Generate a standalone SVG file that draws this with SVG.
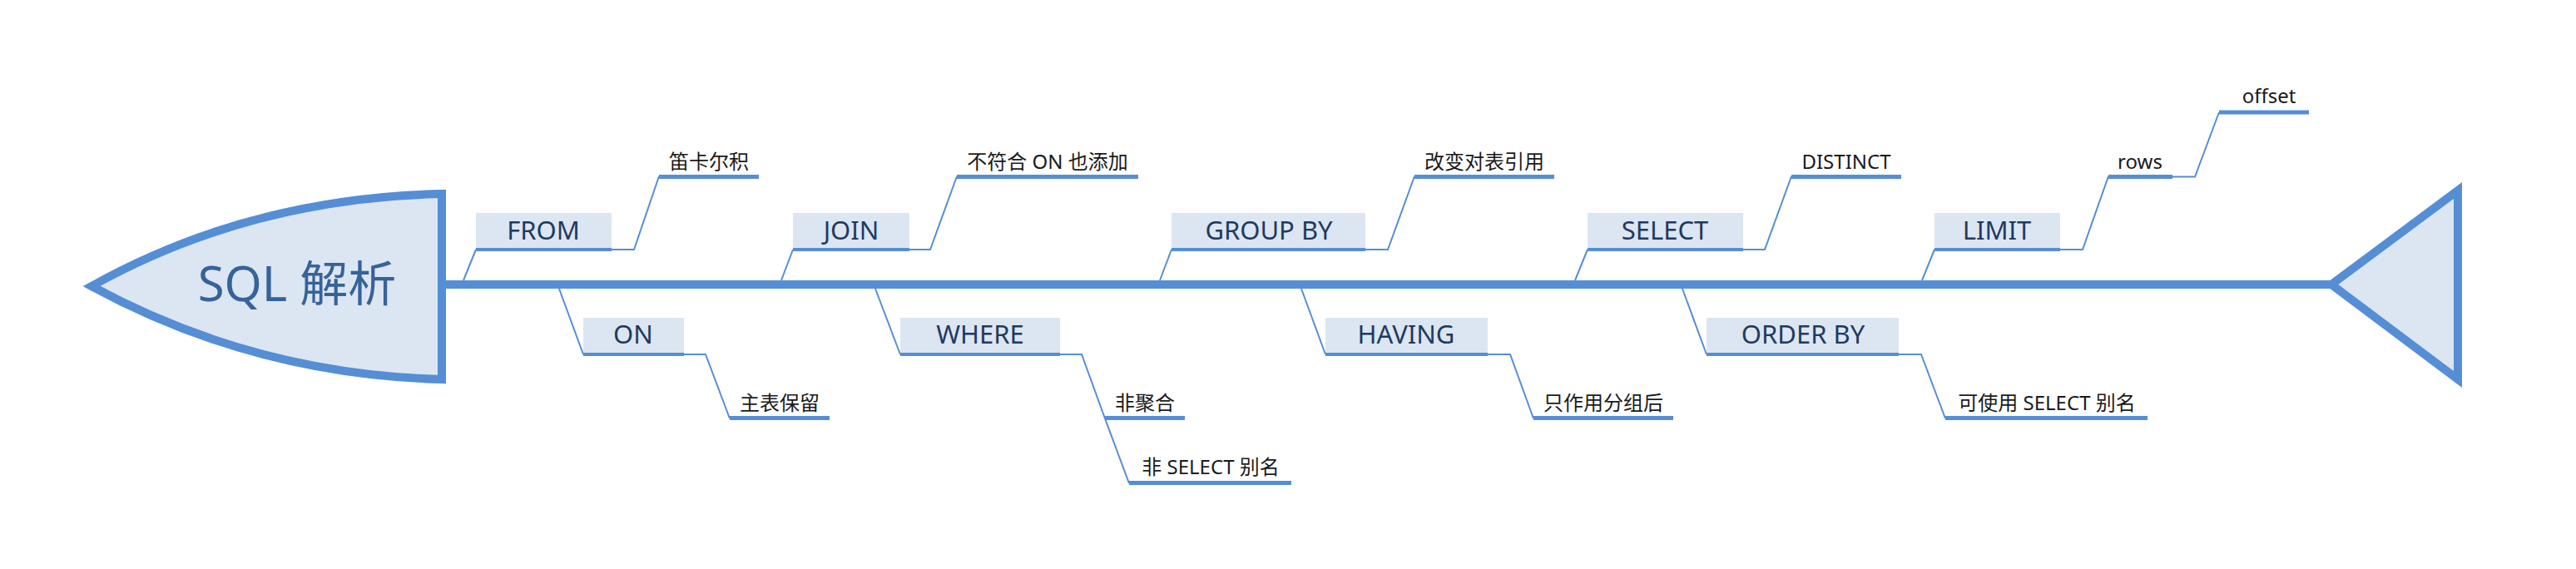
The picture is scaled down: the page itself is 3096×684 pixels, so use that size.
<svg xmlns="http://www.w3.org/2000/svg" width="3096" height="684" viewBox="0 0 3096 684">
<style>
.bg{fill:#ffffff}
.shape{fill:#dce6f2;stroke:#558ed5;stroke-width:10;stroke-linejoin:miter;stroke-miterlimit:10}
.spine{stroke:#558ed5;stroke-width:10;fill:none}
.thin{stroke:#558ed5;stroke-width:2;fill:none}
.uline{stroke:#558ed5;stroke-width:4;fill:none}
.cline{stroke:#558ed5;stroke-width:5;fill:none}
.box{fill:#dce6f2}
.head{font-family:"Noto Sans","Noto Sans CJK SC",sans-serif;font-size:58px;fill:#35639a;text-anchor:middle}
.lbl{font-family:"Noto Sans","Noto Sans CJK SC",sans-serif;font-size:31px;fill:#1f3a60;text-anchor:middle}
.sub{font-family:"Noto Sans","Noto Sans CJK SC",sans-serif;font-size:24px;fill:#1a1a1a;text-anchor:middle}
</style>
<rect class="bg" x="0" y="0" width="3096" height="684"/>
<g id="connectors">
<line class="spine" x1="531" y1="342" x2="2802" y2="342"/>
<!-- spine to upper nodes -->
<polyline class="thin" points="557,337 572,300"/>
<polyline class="thin" points="939,337 953,300"/>
<polyline class="thin" points="1394,337 1408,300"/>
<polyline class="thin" points="1893,337 1908,300"/>
<polyline class="thin" points="2310,337 2325,300"/>
<!-- spine to lower nodes -->
<polyline class="thin" points="672,347 701,426"/>
<polyline class="thin" points="1052,347 1082,426"/>
<polyline class="thin" points="1564,347 1593,426"/>
<polyline class="thin" points="2022,347 2051,426"/>
<!-- upper children -->
<polyline class="thin" points="735,300 762,300 792,212"/>
<polyline class="thin" points="1093,300 1118,300 1150,212"/>
<polyline class="thin" points="1641,300 1668,300 1700,212"/>
<polyline class="thin" points="2095,300 2121,300 2153,212"/>
<polyline class="thin" points="2476,300 2503,300 2534,212"/>
<polyline class="thin" points="2611,212.5 2638,212.5 2667,135"/>
<!-- lower children -->
<polyline class="thin" points="822,426 848,426 877,503"/>
<polyline class="thin" points="1274,426 1300,426 1328,503 1357,581"/>
<polyline class="thin" points="1788,426 1815,426 1843,503"/>
<polyline class="thin" points="2282,426 2309,426 2338,503"/>
</g>
<g id="head">
<path class="shape" d="M 531 233 L 531 456 Q 305 450 110 344 Q 300 238 531 233 Z"/>
<text class="head" x="357" y="362">SQL 解析</text>
</g>
<g id="tail">
<polygon class="shape" points="2802,342 2954,229 2954,456"/>
</g>
<g id="n-from">
<rect class="box" x="572" y="256" width="163" height="42"/>
<line class="uline" x1="572" y1="300" x2="735" y2="300"/>
<text class="lbl" x="653" y="288">FROM</text>
</g>
<g id="n-join">
<rect class="box" x="953" y="256" width="140" height="42"/>
<line class="uline" x1="953" y1="300" x2="1093" y2="300"/>
<text class="lbl" x="1023" y="288">JOIN</text>
</g>
<g id="n-groupby">
<rect class="box" x="1408" y="256" width="233" height="42"/>
<line class="uline" x1="1408" y1="300" x2="1641" y2="300"/>
<text class="lbl" x="1525" y="288">GROUP BY</text>
</g>
<g id="n-select">
<rect class="box" x="1908" y="256" width="187" height="42"/>
<line class="uline" x1="1908" y1="300" x2="2095" y2="300"/>
<text class="lbl" x="2001" y="288">SELECT</text>
</g>
<g id="n-limit">
<rect class="box" x="2325" y="256" width="151" height="42"/>
<line class="uline" x1="2325" y1="300" x2="2476" y2="300"/>
<text class="lbl" x="2400" y="288">LIMIT</text>
</g>
<g id="n-on">
<rect class="box" x="701" y="382" width="121" height="42"/>
<line class="uline" x1="701" y1="426" x2="822" y2="426"/>
<text class="lbl" x="761" y="413">ON</text>
</g>
<g id="n-where">
<rect class="box" x="1082" y="382" width="192" height="42"/>
<line class="uline" x1="1082" y1="426" x2="1274" y2="426"/>
<text class="lbl" x="1178" y="413">WHERE</text>
</g>
<g id="n-having">
<rect class="box" x="1593" y="382" width="195" height="42"/>
<line class="uline" x1="1593" y1="426" x2="1788" y2="426"/>
<text class="lbl" x="1690" y="413">HAVING</text>
</g>
<g id="n-orderby">
<rect class="box" x="2051" y="382" width="231" height="42"/>
<line class="uline" x1="2051" y1="426" x2="2282" y2="426"/>
<text class="lbl" x="2167" y="413">ORDER BY</text>
</g>
<g id="c-cartesian">
<line class="cline" x1="792" y1="212.5" x2="912" y2="212.5"/>
<text class="sub" x="852" y="203">笛卡尔积</text>
</g>
<g id="c-join-add">
<line class="cline" x1="1150" y1="212.5" x2="1368" y2="212.5"/>
<text class="sub" x="1259" y="203">不符合 ON 也添加</text>
</g>
<g id="c-groupby-ref">
<line class="cline" x1="1700" y1="212.5" x2="1868" y2="212.5"/>
<text class="sub" x="1784" y="203">改变对表引用</text>
</g>
<g id="c-distinct">
<line class="cline" x1="2153" y1="212.5" x2="2285" y2="212.5"/>
<text class="sub" x="2219" y="203">DISTINCT</text>
</g>
<g id="c-rows">
<line class="cline" x1="2534" y1="212.5" x2="2611" y2="212.5"/>
<text class="sub" x="2572" y="203">rows</text>
</g>
<g id="c-offset">
<line class="cline" x1="2667" y1="135" x2="2775" y2="135"/>
<text class="sub" x="2727" y="124">offset</text>
</g>
<g id="c-main-table">
<line class="cline" x1="877" y1="502.5" x2="997" y2="502.5"/>
<text class="sub" x="937" y="493">主表保留</text>
</g>
<g id="c-non-agg">
<line class="cline" x1="1328" y1="502.5" x2="1424" y2="502.5"/>
<text class="sub" x="1376" y="493">非聚合</text>
</g>
<g id="c-non-alias">
<line class="cline" x1="1357" y1="580.5" x2="1552" y2="580.5"/>
<text class="sub" x="1455" y="570">非 SELECT 别名</text>
</g>
<g id="c-having-after">
<line class="cline" x1="1843" y1="502.5" x2="2011" y2="502.5"/>
<text class="sub" x="1927" y="493">只作用分组后</text>
</g>
<g id="c-orderby-alias">
<line class="cline" x1="2338" y1="502.5" x2="2581" y2="502.5"/>
<text class="sub" x="2460" y="493">可使用 SELECT 别名</text>
</g>
</svg>
